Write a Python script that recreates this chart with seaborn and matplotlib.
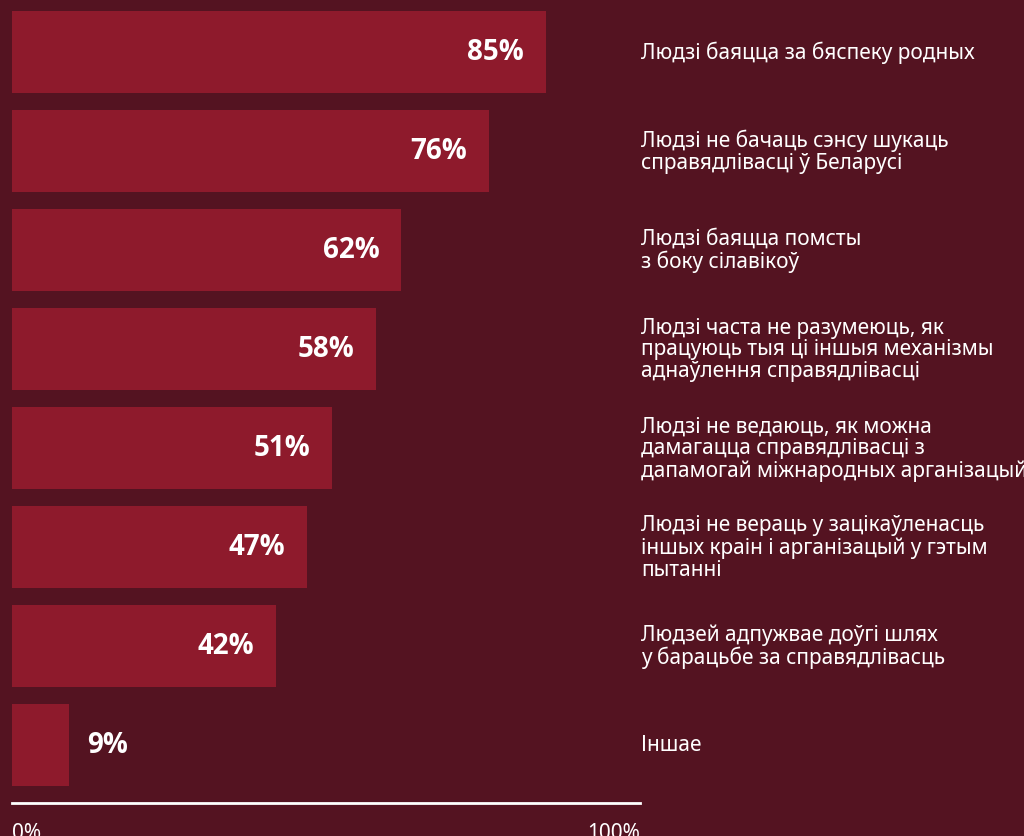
import matplotlib
matplotlib.use("Agg")
import matplotlib.pyplot as plt
import seaborn as sns
import pandas as pd

# data
reasons = [
    "Людзі баяцца за бяспеку родных",
    "Людзі не бачаць сэнсу шукаць\nсправядлівасці ў Беларусі",
    "Людзі баяцца помсты\nз боку сілавікоў",
    "Людзі часта не разумеюць, як\nпрацуюць тыя ці іншыя механізмы\nаднаўлення справядлівасці",
    "Людзі не ведаюць, як можна\nдамагацца справядлівасці з\nдапамогай міжнародных арганізацый",
    "Людзі не вераць у зацікаўленасць\nіншых краін і арганізацый у гэтым\nпытанні",
    "Людзей адпужвае доўгі шлях\nу барацьбе за справядлівасць",
    "Іншае",
]
shares = [85, 76, 62, 58, 51, 47, 42, 9]
tick_values = [0, 100]
tick_labels = ["0%", "100%"]

BG = "#541321"
BAR = "#8e1a2c"

sns.set_theme(style="white")
plt.rcParams["font.family"] = ["Noto Sans", "DejaVu Sans"]

df = pd.DataFrame({"reason": reasons, "share": shares})

fig = plt.figure(figsize=(10.24, 8.37), dpi=100, facecolor=BG)
# axes spans x 12..640 px, y 0..804 px
ax = fig.add_axes([12 / 1024, 1 - 804 / 837, 628 / 1024, 804 / 837])
ax.set_facecolor(BG)

sns.barplot(data=df, x="share", y="reason", orient="h", color=BAR,
            saturation=1, width=0.83, linewidth=0, ax=ax)

ax.set_xlim(0, 100)
ax.set_ylim(len(reasons) - 1 + 0.586, -0.535)

bold = ["Open Sans", "DejaVu Sans"]
for i, (v, lab) in enumerate(zip(shares, reasons)):
    if v > 20:
        ax.text(v - 3.5, i, f"{v}%", ha="right", va="center", color="white",
                fontsize=20, fontweight="bold", family=bold)
    else:
        ax.text(v + 3.0, i, f"{v}%", ha="left", va="center", color="white",
                fontsize=20, fontweight="bold", family=bold)
    ax.text(100.2, i, lab, ha="left", va="center", color="white",
            fontsize=15, linespacing=1.05, clip_on=False)

ax.set_xlabel("")
ax.set_ylabel("")
ax.set_yticks([])
ax.set_xticks([])
for s in ["top", "right", "left"]:
    ax.spines[s].set_visible(False)
ax.spines["bottom"].set_color("white")
ax.spines["bottom"].set_linewidth(2)

for v, t, ha in zip(tick_values, tick_labels, ["left", "right"]):
    ax.text(v, len(reasons) - 1 + 0.586 + 0.19, t, ha=ha, va="top",
            color="white", fontsize=15, clip_on=False)

fig.savefig("out.png", dpi=100, facecolor=BG)
